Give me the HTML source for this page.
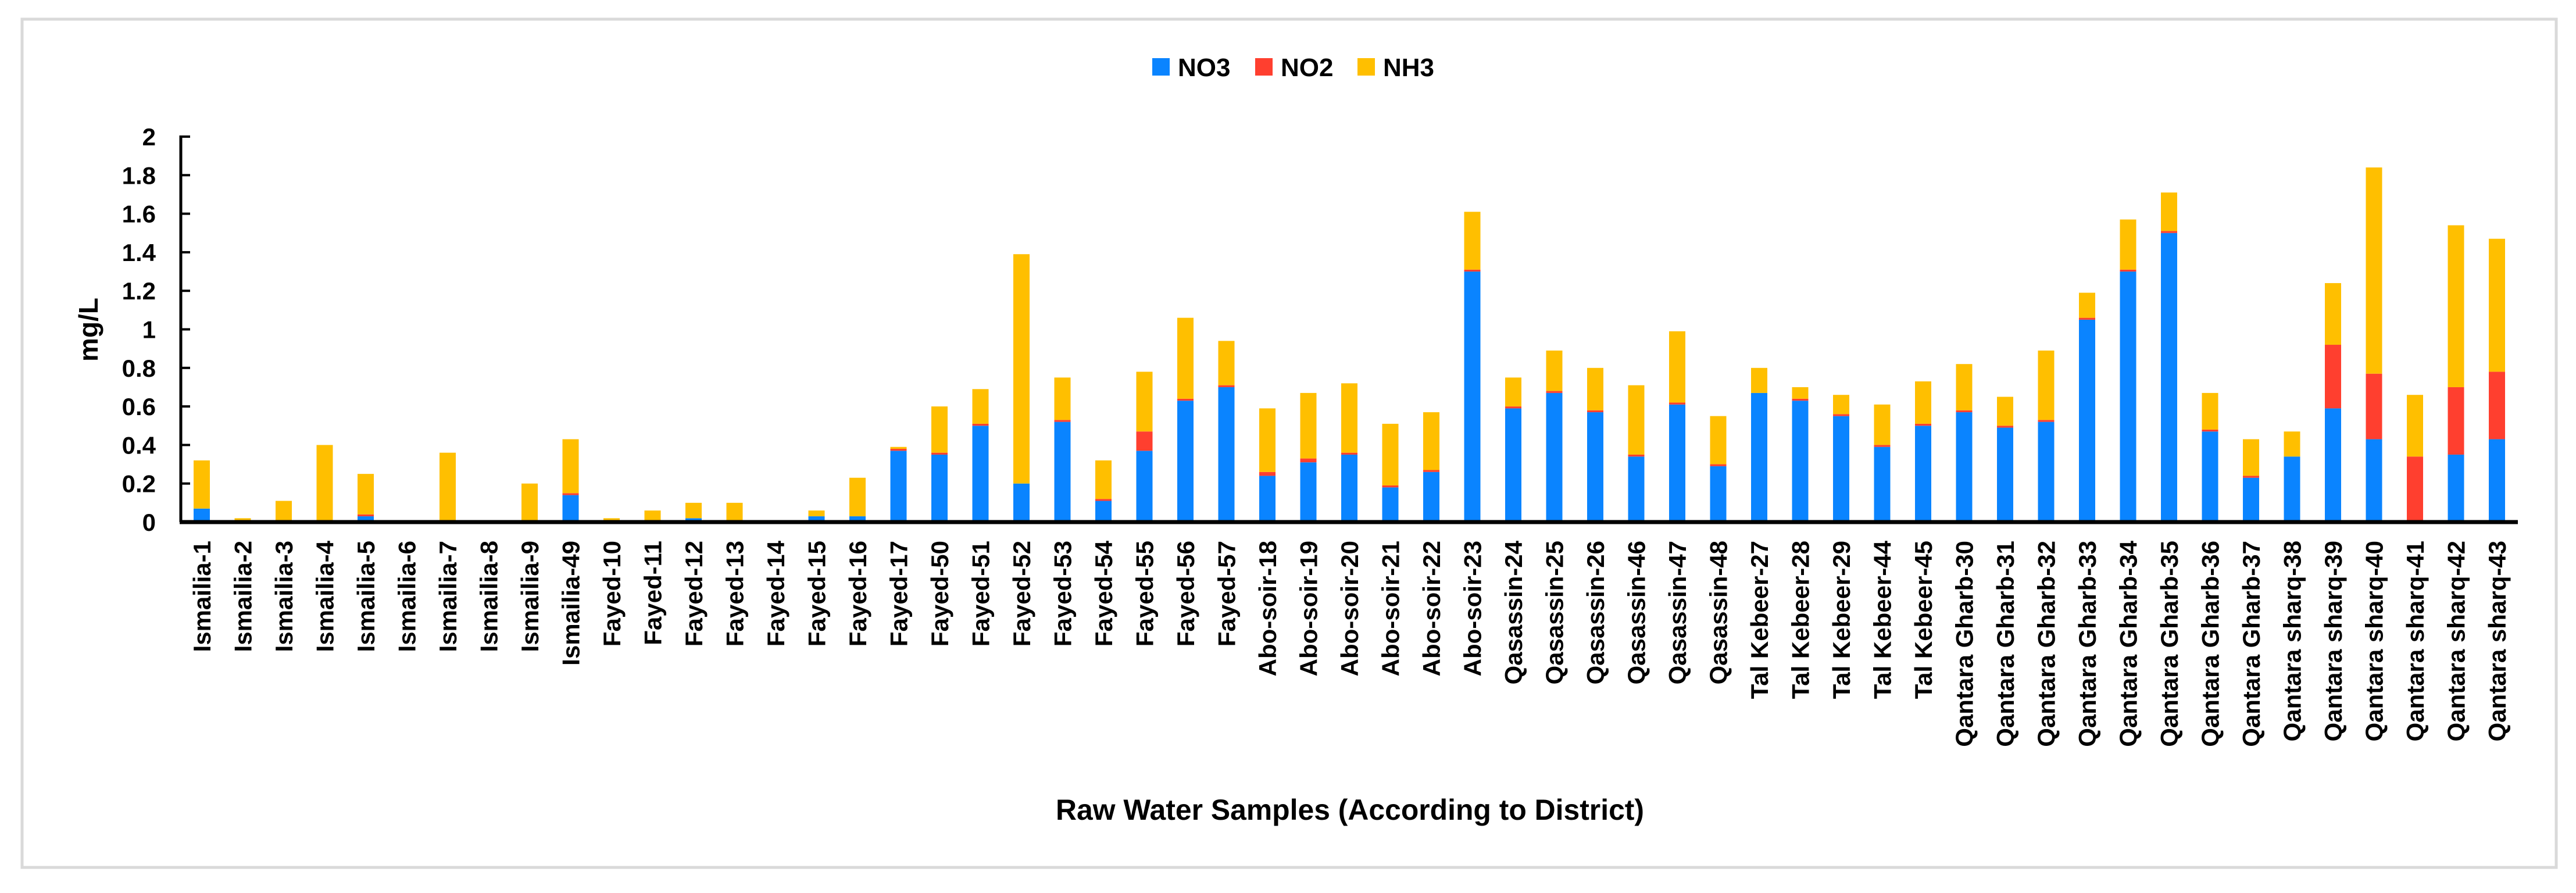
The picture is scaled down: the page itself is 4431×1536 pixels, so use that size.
<!DOCTYPE html>
<html><head><meta charset="utf-8"><style>
html,body{margin:0;padding:0;background:#fff;}
svg{display:block;font-family:"Liberation Sans",sans-serif;font-weight:bold;}
</style></head><body>
<svg id="chart" width="4431" height="1536" viewBox="0 0 4431 1536" xmlns="http://www.w3.org/2000/svg">
<rect x="38" y="33" width="4359" height="1459" fill="#fff" stroke="#d9d9d9" stroke-width="5"/>
<g id="bars"></g>
<g id="yaxis"></g>
<g id="xaxis"></g>
<text transform="translate(168,567) rotate(-90)" text-anchor="middle" font-size="46">mg/L</text>
<text x="2322" y="1410" text-anchor="middle" font-size="50" textLength="1012" lengthAdjust="spacingAndGlyphs">Raw Water Samples (According to District)</text>
<g>
<g><rect x="1982" y="100" width="30" height="30" fill="#0A84FF"/><text x="2026" y="131" font-size="44">NO3</text></g>
<g><rect x="2159" y="100" width="30" height="30" fill="#FF3F2F"/><text x="2203" y="131" font-size="44">NO2</text></g>
<g><rect x="2335" y="100" width="30" height="30" fill="#FFBF00"/><text x="2379" y="131" font-size="44">NH3</text></g>
</g>
</svg>
<script>
const categories = ["Ismailia-1","Ismailia-2","Ismailia-3","Ismailia-4","Ismailia-5","Ismailia-6","Ismailia-7","Ismailia-8","Ismailia-9","Ismailia-49",
"Fayed-10","Fayed-11","Fayed-12","Fayed-13","Fayed-14","Fayed-15","Fayed-16","Fayed-17","Fayed-50","Fayed-51","Fayed-52","Fayed-53","Fayed-54","Fayed-55","Fayed-56","Fayed-57",
"Abo-soir-18","Abo-soir-19","Abo-soir-20","Abo-soir-21","Abo-soir-22","Abo-soir-23",
"Qasassin-24","Qasassin-25","Qasassin-26","Qasassin-46","Qasassin-47","Qasassin-48",
"Tal Kebeer-27","Tal Kebeer-28","Tal Kebeer-29","Tal Kebeer-44","Tal Kebeer-45",
"Qantara Gharb-30","Qantara Gharb-31","Qantara Gharb-32","Qantara Gharb-33","Qantara Gharb-34","Qantara Gharb-35","Qantara Gharb-36","Qantara Gharb-37",
"Qantara sharq-38","Qantara sharq-39","Qantara sharq-40","Qantara sharq-41","Qantara sharq-42","Qantara sharq-43"];
const no3 = [0.07,0,0,0,0.03,0,0,0,0,0.14, 0,0,0.02,0,0,0.03,0.03,0.37,0.35,0.50,0.20,0.52,0.11,0.37,0.63,0.70, 0.24,0.31,0.35,0.18,0.26,1.30, 0.59,0.67,0.57,0.34,0.61,0.29, 0.67,0.63,0.55,0.39,0.50, 0.57,0.49,0.52,1.05,1.30,1.50,0.47,0.23, 0.34,0.59,0.43,0,0.35,0.43];
const no2 = [0,0.01,0,0,0.01,0,0,0,0,0.01, 0,0,0,0,0,0,0,0.01,0.01,0.01,0,0.01,0.01,0.10,0.01,0.01, 0.02,0.02,0.01,0.01,0.01,0.01, 0.01,0.01,0.01,0.01,0.01,0.01, 0,0.01,0.01,0.01,0.01, 0.01,0.01,0.01,0.01,0.01,0.01,0.01,0.01, 0,0.33,0.34,0.34,0.35,0.35];
const nh3 = [0.25,0.01,0.11,0.40,0.21,0,0.36,0,0.20,0.28, 0.02,0.06,0.08,0.10,0.01,0.03,0.20,0.01,0.24,0.18,1.19,0.22,0.20,0.31,0.42,0.23, 0.33,0.34,0.36,0.32,0.30,0.30, 0.15,0.21,0.22,0.36,0.37,0.25, 0.13,0.06,0.10,0.21,0.22, 0.24,0.15,0.36,0.13,0.26,0.20,0.19,0.19, 0.13,0.32,1.07,0.32,0.84,0.69];
const yTicks = ["0","0.2","0.4","0.6","0.8","1","1.2","1.4","1.6","1.8","2"];
const seriesColors = {no3:"#0A84FF", no2:"#FF3F2F", nh3:"#FFBF00"};

const NS="http://www.w3.org/2000/svg";
const X0=347, STEP=70.5, BW=28, Y0=898, YTOP=235, YMAX=2;
function xPos(i){return X0+i*STEP;}
function yPos(v){return Y0-(v/YMAX)*(Y0-YTOP);}
function mk(tag,attrs,parent){const e=document.createElementNS(NS,tag);for(const k in attrs)e.setAttribute(k,attrs[k]);parent.appendChild(e);return e;}

const bars=document.getElementById('bars');
categories.forEach((c,i)=>{
  let base=0;
  [["no3",no3[i]],["no2",no2[i]],["nh3",nh3[i]]].forEach(([s,v])=>{
    if(v>0){
      const r=mk('rect',{x:xPos(i)-BW/2,y:yPos(base+v),width:BW,height:yPos(base)-yPos(base+v),fill:seriesColors[s]},bars);
      
      
    }
    base+=v;
  });
});

const ya=document.getElementById('yaxis');
const yl=mk('line',{x1:311,y1:YTOP-2,x2:311,y2:Y0,stroke:"#000","stroke-width":5},ya);


yTicks.forEach(t=>{
  const v=parseFloat(t);
  const tk=mk('line',{x1:311,y1:yPos(v),x2:327,y2:yPos(v),stroke:"#000","stroke-width":4},ya);
  
  
  const tx=mk('text',{x:268,y:yPos(v)+15,"text-anchor":"end","font-size":42},ya);
  tx.textContent=t;
  
  
});

const xa=document.getElementById('xaxis');
const xl=mk('line',{x1:309,y1:Y0,x2:4331,y2:Y0,stroke:"#000","stroke-width":7},xa);


categories.forEach((c,i)=>{
  const tx=mk('text',{transform:`translate(${xPos(i)+15},930) rotate(-90)`,"text-anchor":"end","font-size":42},xa);
  tx.textContent=c;
  
  
});
</script>
</body></html>
